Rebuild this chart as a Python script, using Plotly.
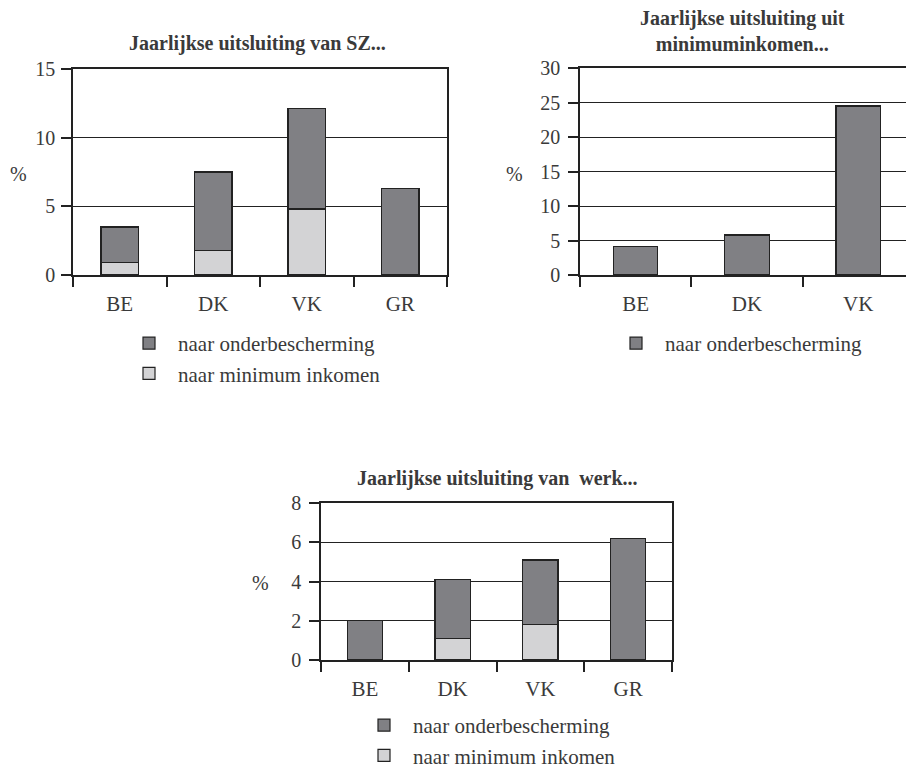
import plotly.graph_objects as go

W, H = 906, 771

# Categories
landen4 = ["BE", "DK", "VK", "GR"]
landen3 = ["BE", "DK", "VK"]

# Jaarlijkse uitsluiting van SZ (%)
sz_onder = [2.6, 5.7, 7.3, 6.3]
sz_min = [0.9, 1.8, 4.8, None]

# Jaarlijkse uitsluiting uit minimuminkomen (%)
mi_onder = [4.1, 5.8, 24.5]

# Jaarlijkse uitsluiting van werk (%)
werk_onder = [2.0, 3.0, 3.3, 6.2]
werk_min = [None, 1.1, 1.8, None]

yticks_sz = [0, 5, 10, 15]
yticks_mi = [0, 5, 10, 15, 20, 25, 30]
yticks_werk = [0, 2, 4, 6, 8]

naam_onder = "naar onderbescherming"
naam_min = "naar minimum inkomen"

DARK = "#808084"
LIGHT = "#d3d3d5"
INK = "#222222"
TXT = "#3a3a3a"
FONT = "Liberation Serif, Times New Roman, serif"


def px_x(x):
    return x / W


def px_y(y):
    return 1 - y / H


fig = go.Figure()

bar_line = dict(color=INK, width=1.2)


def add_bars(x, vals, name, color, xa, ya, legend, rank, show=True):
    fig.add_trace(go.Bar(
        x=x, y=vals, name=name, width=0.4,
        marker=dict(color=color, line=bar_line),
        xaxis=xa, yaxis=ya, legend=legend, legendgroup=name + legend,
        legendrank=rank, showlegend=show,
    ))


add_bars(landen4, sz_min, naam_min, LIGHT, "x", "y", "legend", 2)
add_bars(landen4, sz_onder, naam_onder, DARK, "x", "y", "legend", 1)
add_bars(landen3, mi_onder, naam_onder, DARK, "x2", "y2", "legend2", 1)
add_bars(landen4, werk_min, naam_min, LIGHT, "x3", "y3", "legend3", 2)
add_bars(landen4, werk_onder, naam_onder, DARK, "x3", "y3", "legend3", 1)


def xaxis(domain, anchor, rng, mirror=True):
    return dict(
        domain=domain, anchor=anchor, range=rng, type="category",
        showline=True, linecolor=INK, linewidth=1.5, mirror=mirror,
        ticks="outside", tickson="boundaries", ticklen=10, tickwidth=1.5,
        tickcolor=INK, tickfont=dict(family=FONT, size=21, color=TXT),
        ticklabelstandoff=9, showgrid=False, fixedrange=True,
        automargin=False,
    )


def yaxis(domain, anchor, tickvals, mirror=True, standoff=4):
    return dict(
        domain=domain, anchor=anchor, range=[0, tickvals[-1]],
        tickvals=tickvals, showline=True, linecolor=INK, linewidth=1.5,
        mirror=mirror, ticks="outside", ticklen=10, tickwidth=1.5,
        tickcolor=INK, tickfont=dict(family=FONT, size=20, color=TXT),
        ticklabelstandoff=standoff, showgrid=True, gridcolor=INK,
        gridwidth=1.3, zeroline=False, fixedrange=True, automargin=False,
    )


legend_common = dict(
    font=dict(family=FONT, size=21, color=TXT),
    bgcolor="rgba(0,0,0,0)", borderwidth=0, itemwidth=48,
    tracegroupgap=0, traceorder="grouped", xanchor="left", yanchor="top",
    xref="container", yref="container",
    itemclick=False, itemdoubleclick=False,
)

fig.update_layout(
    width=W, height=H, margin=dict(l=0, r=0, t=0, b=0, autoexpand=False),
    paper_bgcolor="white", plot_bgcolor="white",
    barmode="stack", showlegend=True,
    font=dict(family=FONT, color=TXT),
    xaxis=xaxis([px_x(73), px_x(447)], "y", [-0.5, 3.5]),
    yaxis=yaxis([px_y(275), px_y(69)], "x", yticks_sz, standoff=2),
    xaxis2=xaxis([px_x(580), 1.0], "y2", [-0.5, 2.43]),
    yaxis2=yaxis([px_y(275), px_y(68)], "x2", yticks_mi, mirror=False),
    xaxis3=xaxis([px_x(321), px_x(672)], "y3", [-0.5, 3.5]),
    yaxis3=yaxis([px_y(660), px_y(503)], "x3", yticks_werk),
    legend=dict(legend_common, x=px_x(120), y=px_y(323)),
    legend2=dict(legend_common, x=px_x(607), y=px_y(323)),
    legend3=dict(legend_common, x=px_x(355), y=px_y(705)),
)

titel = dict(family=FONT, size=20, color="#3a3a3a")
titles = [
    ("<b>Jaarlijkse uitsluiting van SZ...</b>", 257, 43),
    ("<b>Jaarlijkse uitsluiting uit</b><br><b>minimuminkomen...</b>", 742, 31),
    ("<b>Jaarlijkse uitsluiting van  werk...</b>", 497, 478),
]
for text, cx, cy in titles:
    fig.add_annotation(
        text=text, x=px_x(cx), y=px_y(cy), xref="paper", yref="paper",
        xanchor="center", yanchor="middle", showarrow=False, font=titel,
    )

for cx, cy in [(18, 174), (514, 174), (260, 583)]:
    fig.add_annotation(
        text="%", x=px_x(cx), y=px_y(cy), xref="paper", yref="paper",
        xanchor="center", yanchor="middle", showarrow=False,
        font=dict(family=FONT, size=20, color=TXT),
    )

fig.write_html("out.html")
